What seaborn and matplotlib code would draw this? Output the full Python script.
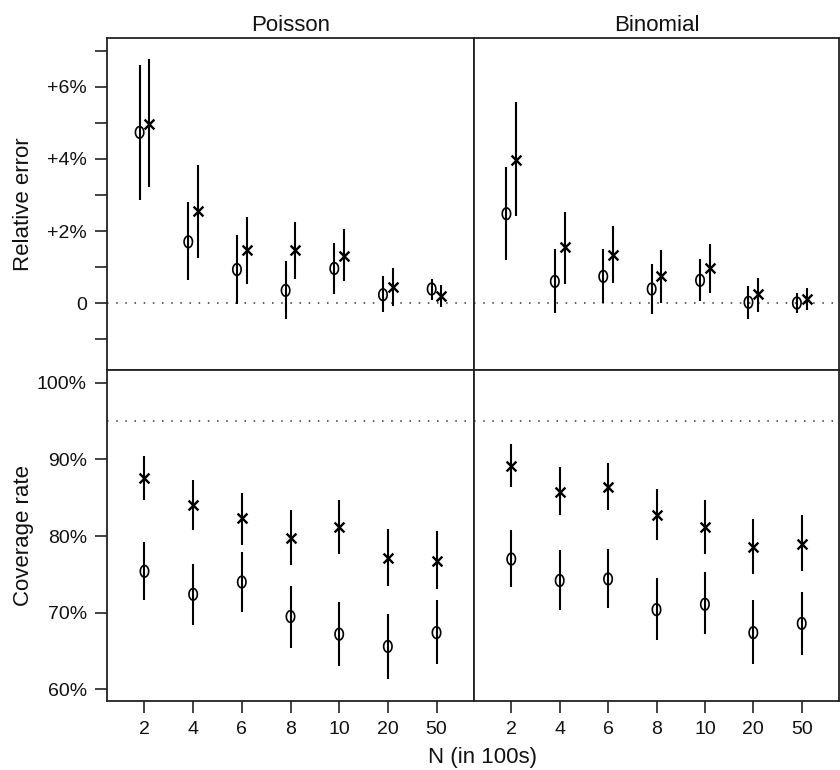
import numpy as np
import pandas as pd
import seaborn as sns
import matplotlib.pyplot as plt

sns.set_style('white')
plt.rcParams['font.family'] = ['Liberation Sans', 'DejaVu Sans']
plt.rcParams['text.color'] = '#111111'
plt.rcParams['xtick.labelcolor'] = '#111111'
plt.rcParams['ytick.labelcolor'] = '#111111'
plt.rcParams['axes.labelcolor'] = '#111111'

n_labels = ['2', '4', '6', '8', '10', '20', '50']
panels = ['Poisson', 'Binomial']

# relative error in %, estimate and interval for "o" and "x"
err_pois_o = [4.74, 1.70, 0.93, 0.35, 0.96, 0.23, 0.39]
err_pois_o_lo = [2.87, 0.63, -0.02, -0.44, 0.26, -0.26, 0.09]
err_pois_o_hi = [6.62, 2.81, 1.90, 1.16, 1.67, 0.74, 0.67]
err_pois_x = [4.98, 2.55, 1.46, 1.46, 1.31, 0.44, 0.20]
err_pois_x_lo = [3.22, 1.25, 0.53, 0.67, 0.60, -0.09, -0.12]
err_pois_x_hi = [6.78, 3.82, 2.38, 2.26, 2.05, 0.96, 0.51]

err_bin_o = [2.48, 0.60, 0.74, 0.39, 0.63, 0.02, 0.00]
err_bin_o_lo = [1.20, -0.28, 0.00, -0.31, 0.05, -0.44, -0.28]
err_bin_o_hi = [3.78, 1.50, 1.50, 1.08, 1.22, 0.46, 0.28]
err_bin_x = [3.98, 1.56, 1.34, 0.74, 0.96, 0.26, 0.11]
err_bin_x_lo = [2.41, 0.54, 0.56, 0.00, 0.28, -0.26, -0.20]
err_bin_x_hi = [5.58, 2.52, 2.15, 1.48, 1.64, 0.69, 0.41]

# coverage rate in %
cov_pois_o = [75.4, 72.4, 74.0, 69.5, 67.2, 65.6, 67.4]
cov_pois_o_lo = [71.7, 68.4, 70.1, 65.4, 63.1, 61.4, 63.3]
cov_pois_o_hi = [79.2, 76.4, 77.9, 73.5, 71.4, 69.8, 71.7]
cov_pois_x = [87.6, 84.0, 82.3, 79.8, 81.2, 77.2, 76.7]
cov_pois_x_lo = [84.7, 80.8, 78.8, 76.2, 77.7, 73.5, 73.1]
cov_pois_x_hi = [90.5, 87.3, 85.6, 83.4, 84.7, 80.9, 80.6]

cov_bin_o = [77.0, 74.2, 74.4, 70.4, 71.1, 67.4, 68.6]
cov_bin_o_lo = [73.3, 70.4, 70.6, 66.4, 67.2, 63.3, 64.5]
cov_bin_o_hi = [80.8, 78.2, 78.3, 74.5, 75.3, 71.6, 72.7]
cov_bin_x = [89.1, 85.8, 86.4, 82.8, 81.2, 78.6, 79.0]
cov_bin_x_lo = [86.4, 82.7, 83.4, 79.5, 77.7, 75.0, 75.4]
cov_bin_x_hi = [92.0, 89.0, 89.5, 86.2, 84.7, 82.2, 82.7]

err_ref = 0
cov_ref = 95

rows = []
def add(measure, panel, method, est, lo, hi):
    for i, n in enumerate(n_labels):
        rows.append(dict(measure=measure, panel=panel, method=method, n=n,
                         idx=i, est=est[i], lo=lo[i], hi=hi[i]))

add('err', 'Poisson', 'o', err_pois_o, err_pois_o_lo, err_pois_o_hi)
add('err', 'Poisson', 'x', err_pois_x, err_pois_x_lo, err_pois_x_hi)
add('err', 'Binomial', 'o', err_bin_o, err_bin_o_lo, err_bin_o_hi)
add('err', 'Binomial', 'x', err_bin_x, err_bin_x_lo, err_bin_x_hi)
add('cov', 'Poisson', 'o', cov_pois_o, cov_pois_o_lo, cov_pois_o_hi)
add('cov', 'Poisson', 'x', cov_pois_x, cov_pois_x_lo, cov_pois_x_hi)
add('cov', 'Binomial', 'o', cov_bin_o, cov_bin_o_lo, cov_bin_o_hi)
add('cov', 'Binomial', 'x', cov_bin_x, cov_bin_x_lo, cov_bin_x_hi)
df = pd.DataFrame(rows)

# dodge o/x in top row only
dodge = {'err': 0.1, 'cov': 0.0}
df['xpos'] = df['idx'] + np.where(df['method'] == 'o', -1, 1) * df['measure'].map(dodge)

# tall, narrow "o" like a text letter
t = np.linspace(0, 2 * np.pi, 60)
o_marker = np.column_stack([0.72 * np.cos(t), np.sin(t)])

fig = plt.figure(figsize=(8.4, 7.7), dpi=100)
W, H = 840, 770
def box(x0, y0, x1, y1):
    return [x0 / W, 1 - y1 / H, (x1 - x0) / W, (y1 - y0) / H]

pos = {
    ('err', 'Poisson'): box(107, 38, 474, 370),
    ('err', 'Binomial'): box(474, 38, 839, 370),
    ('cov', 'Poisson'): box(107, 370, 474, 701),
    ('cov', 'Binomial'): box(474, 370, 839, 701),
}
ylims = {'err': (-1.86, 7.36), 'cov': (58.48, 101.66)}

for (measure, panel), rect in pos.items():
    ax = fig.add_axes(rect)
    d = df[(df.measure == measure) & (df.panel == panel)]
    ax.vlines(d['xpos'], d['lo'], d['hi'], color='black', lw=1.5, zorder=2)
    do = d[d.method == 'o']
    dx = d[d.method == 'x']
    sns.scatterplot(data=do, x='xpos', y='est', marker=o_marker, s=70,
                    facecolor='none', edgecolor='black', linewidth=1.2,
                    ax=ax, zorder=3, legend=False)
    sns.scatterplot(data=dx, x='xpos', y='est', marker='x', s=50,
                    color='black', linewidth=1.7, ax=ax, zorder=3, legend=False)
    ref = err_ref if measure == 'err' else cov_ref
    ax.axhline(ref, color='#333333', lw=1.1, ls=(0, (1, 5)), zorder=1)
    ax.set_xlim(-0.77, 6.77)
    ax.set_ylim(*ylims[measure])
    ax.set_xlabel('')
    ax.set_ylabel('')
    for s in ax.spines.values():
        s.set_linewidth(1.3)
        s.set_color('#222222')
    ax.tick_params(left=True, bottom=True, direction='out', length=8.5,
                   width=1.2, color='#222222', labelsize=14, pad=6)
    if measure == 'cov':
        ax.set_xticks(range(len(n_labels)))
        ax.set_xticklabels(n_labels)
    else:
        ax.set_xticks([])
        ax.set_title(panel, fontsize=16, pad=5)
    if panel == 'Poisson':
        if measure == 'err':
            ticks = list(range(-1, 8))
            labels = ['' if v % 2 else ('0' if v == 0 else f'+{v}%') for v in ticks]
            ax.set_yticks(ticks)
            ax.set_yticklabels(labels)
            ax.set_ylabel('Relative error', fontsize=16)
        else:
            ticks = [60, 70, 80, 90, 100]
            ax.set_yticks(ticks)
            ax.set_yticklabels([f'{v}%' for v in ticks])
            ax.set_ylabel('Coverage rate', fontsize=16)
        ax.yaxis.set_label_coords(-0.2, 0.5)
    else:
        ax.set_yticks([])

fig.text(483 / W, 1 - 758 / H, 'N (in 100s)', ha='center', va='center', fontsize=16)
fig.savefig('out.png', dpi=100)
